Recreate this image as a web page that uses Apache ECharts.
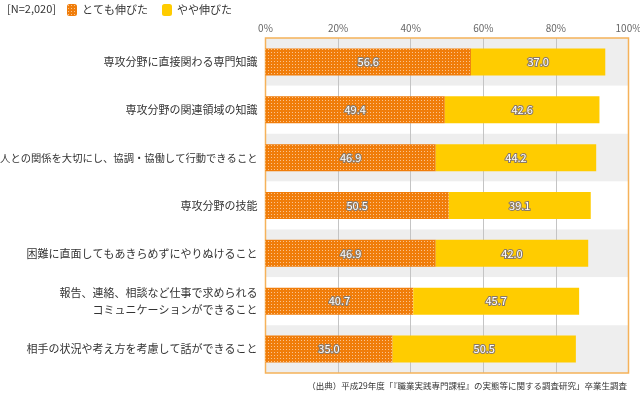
<!DOCTYPE html>
<html><head><meta charset="utf-8">
<script src="https://cdn.jsdelivr.net/npm/echarts@6/dist/echarts.min.js"></script>
<style>html,body{margin:0;padding:0;background:#fff}#c{width:640px;height:395px}</style>
</head><body><div id="c"></div>
<script>
const categories = [
  '専攻分野に直接関わる専門知識',
  '専攻分野の関連領域の知識',
  '人との関係を大切にし、協調・協働して行動できること',
  '専攻分野の技能',
  '困難に直面してもあきらめずにやりぬけること',
  '報告、連絡、相談など仕事で求められる\nコミュニケーションができること',
  '相手の状況や考え方を考慮して話ができること'
];
const seriesNames = ['とても伸びた', 'やや伸びた'];
const veryGrew = [56.6, 49.4, 46.9, 50.5, 46.9, 40.7, 35.0];
const someGrew = [37.0, 42.6, 44.2, 39.1, 42.0, 45.7, 50.5];
const xTicks = [0, 20, 40, 60, 80, 100];
const sampleNote = '[N=2,020]';
const sourceNote = '（出典）平成29年度「『職業実践専門課程』の実態等に関する調査研究」卒業生調査';

const FONT = '"Noto Sans CJK JP", "Noto Sans", sans-serif';
const cv = document.createElement('canvas');
cv.width = 3; cv.height = 3;
const cx = cv.getContext('2d');
cx.fillStyle = '#F07D0A'; cx.fillRect(0,0,3,3);
cx.fillStyle = '#FAC38E'; cx.fillRect(1,1,1,1);
const orangePattern = { image: cv, repeat: 'repeat' };

const labelCfg = {
  show: true, position: 'inside', color: '#fff', fontSize: 11, fontFamily: FONT,
  textBorderColor: '#8a7a6a', textBorderWidth: 2,
  formatter: p => p.value.toFixed(1)
};

const chart = echarts.init(document.getElementById('c'));
chart.setOption({
  animation: false,
  textStyle: { fontFamily: FONT },
  title: { text: sampleNote, left: 2, top: -2, textStyle: { fontSize: 11, fontWeight: 'normal', color: '#333', fontFamily: FONT } },
  legend: {
    left: 62, top: -1, itemWidth: 10, itemHeight: 12, itemGap: 14,
    textStyle: { fontSize: 11, color: '#333', fontFamily: FONT },
    data: seriesNames
  },
  graphic: [{ type: 'text', right: 13, top: 382,
    style: { text: sourceNote, fontSize: 8.5, fill: '#333', fontFamily: FONT } }],
  grid: { left: 265.5, right: 11.5, top: 38, bottom: 22, show: true, z: 2,
    outerBoundsMode: 'none', containLabel: false,
    borderColor: '#F5B25A', borderWidth: 1.5, backgroundColor: 'transparent' },
  xAxis: {
    type: 'value', position: 'top', min: xTicks[0], max: xTicks[xTicks.length-1], interval: 20,
    axisLine: { show: false }, axisTick: { show: false },
    axisLabel: { formatter: '{value}%', color: '#666', fontSize: 10, margin: 5 },
    splitLine: { lineStyle: { color: '#c4c4c4', width: 1 } }
  },
  yAxis: {
    type: 'category', inverse: true, data: categories,
    axisLine: { show: false }, axisTick: { show: false },
    axisLabel: { color: '#333', fontSize: 11, margin: 8, lineHeight: 17, align: 'right',
      formatter: v => v.length > 22 && v.indexOf('\n') < 0 ? '{s|' + v + '}' : v,
      rich: { s: { fontSize: 10.3, color: '#333', fontFamily: FONT } } },
    splitArea: { show: true, areaStyle: { color: ['#eeeeee', '#ffffff'] } },
    splitLine: { show: false }
  },
  series: [
    { name: seriesNames[0], type: 'bar', stack: 'a', data: veryGrew, barWidth: 27,
      itemStyle: { color: orangePattern }, label: labelCfg, z: 3 },
    { name: seriesNames[1], type: 'bar', stack: 'a', data: someGrew, barWidth: 27,
      itemStyle: { color: '#FFCC00' }, label: labelCfg, z: 3 }
  ]
});
</script></body></html>
